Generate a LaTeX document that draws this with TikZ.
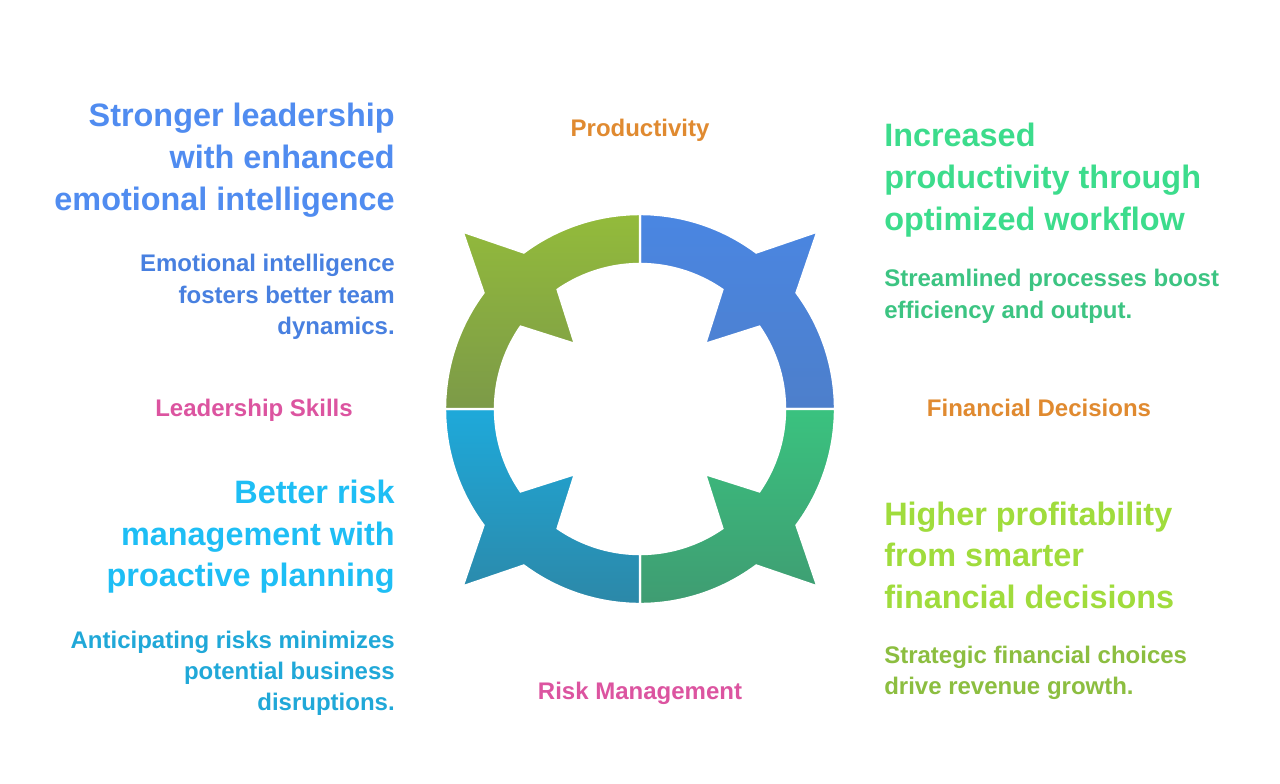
\documentclass[tikz,border=0pt]{standalone}
\usepackage{fontspec}
\setmainfont{Liberation Sans}
\definecolor{hblue}{RGB}{80,140,240}
\definecolor{sblue}{RGB}{72,128,224}
\definecolor{hcyan}{RGB}{30,190,245}
\definecolor{scyan}{RGB}{32,168,216}
\definecolor{hgreen}{RGB}{60,220,140}
\definecolor{sgreen}{RGB}{60,196,130}
\definecolor{hlime}{RGB}{160,220,60}
\definecolor{slime}{RGB}{140,190,64}
\definecolor{lorange}{RGB}{224,138,48}
\definecolor{lpink}{RGB}{220,84,160}
\definecolor{trtop}{RGB}{74,134,226}
\definecolor{trbot}{RGB}{77,127,203}
\definecolor{brtop}{RGB}{58,194,127}
\definecolor{brbot}{RGB}{63,156,114}
\definecolor{bltop}{RGB}{30,169,218}
\definecolor{blbot}{RGB}{44,136,168}
\definecolor{tltop}{RGB}{147,187,59}
\definecolor{tlbot}{RGB}{124,154,72}
\newcommand\ringseg[3]{%
  \path[segstyle, top color=#2, bottom color=#3]
    plot[domain=#1:#1+36.6, samples=25] (\x:195)
    -- (#1+45:251)
    -- plot[domain=#1+53.4:#1+90, samples=25] (\x:195)
    -- plot[domain=#1+90:#1+55.4, samples=25] (\x:145)
    -- (#1+45:92)
    -- plot[domain=#1+34.6:#1, samples=25] (\x:145)
    -- cycle;}
\begin{document}
\begin{tikzpicture}[x=0.75pt, y=-0.75pt,
  segstyle/.style={draw=white, line width=1.8pt, line join=miter},
  head/.style={inner sep=0pt, font=\fontsize{24.3pt}{30pt}\selectfont\bfseries},
  sub/.style={inner sep=0pt, font=\fontsize{18pt}{22pt}\selectfont\bfseries},
  lab/.style={inner sep=0pt, anchor=base, font=\fontsize{18pt}{22pt}\selectfont\bfseries}]
\useasboundingbox[fill=white] (0,0) rectangle (1280,783);
% ring
\begin{scope}[shift={(640,409)}]
  \ringseg{270}{trtop}{trbot}
  \ringseg{0}{brtop}{brbot}
  \ringseg{90}{bltop}{blbot}
  \ringseg{180}{tltop}{tlbot}
\end{scope}
% labels
\node[lab, text=lorange] (lprod) at (640,136) {Productivity};
\node[lab, text=lorange] (lfin) at (1039,416.7) {Financial Decisions};
\node[lab, text=lpink] (llead) at (254,416.7) {Leadership Skills};
\node[lab, text=lpink] (lrisk) at (640,699) {Risk Management};
% left top
\node[head, text=hblue, anchor=base east] (h1a) at (395,126.7) {Stronger leadership};
\node[head, text=hblue, anchor=base east] (h1b) at (395,168.7) {with enhanced};
\node[head, text=hblue, anchor=base east] (h1c) at (395,210.5) {emotional intelligence};
\node[sub, text=sblue, anchor=base east] (s1a) at (395,271.7) {Emotional intelligence};
\node[sub, text=sblue, anchor=base east] (s1b) at (395,303.3) {fosters better team};
\node[sub, text=sblue, anchor=base east] (s1c) at (395,334.5) {dynamics.};
% left bottom
\node[head, text=hcyan, anchor=base east] (h2a) at (395,503.3) {Better risk};
\node[head, text=hcyan, anchor=base east] (h2b) at (395,545) {management with};
\node[head, text=hcyan, anchor=base east] (h2c) at (395,586.7) {proactive planning};
\node[sub, text=scyan, anchor=base east] (s2a) at (395,648.3) {Anticipating risks minimizes};
\node[sub, text=scyan, anchor=base east] (s2b) at (395,679.5) {potential business};
\node[sub, text=scyan, anchor=base east] (s2c) at (395,710.5) {disruptions.};
% right top
\node[head, text=hgreen, anchor=base west] (h3a) at (884,146.7) {Increased};
\node[head, text=hgreen, anchor=base west] (h3b) at (884,188.3) {productivity through};
\node[head, text=hgreen, anchor=base west] (h3c) at (884,230) {optimized workflow};
\node[sub, text=sgreen, anchor=base west] (s3a) at (884,286.7) {Streamlined processes boost};
\node[sub, text=sgreen, anchor=base west] (s3b) at (884,318.3) {efficiency and output.};
% right bottom
\node[head, text=hlime, anchor=base west] (h4a) at (884,525.7) {Higher profitability};
\node[head, text=hlime, anchor=base west] (h4b) at (884,566.7) {from smarter};
\node[head, text=hlime, anchor=base west] (h4c) at (884,608.3) {financial decisions};
\node[sub, text=slime, anchor=base west] (s4a) at (884,663.3) {Strategic financial choices};
\node[sub, text=slime, anchor=base west] (s4b) at (884,694.3) {drive revenue growth.};
\end{tikzpicture}
\end{document}
